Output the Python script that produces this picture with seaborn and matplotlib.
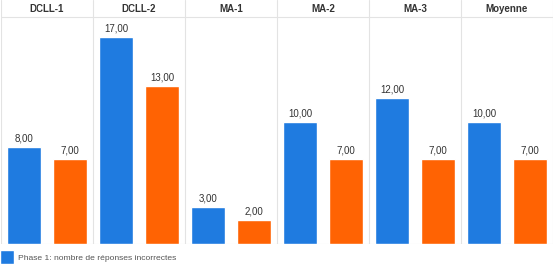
import matplotlib
matplotlib.use("Agg")
import matplotlib.pyplot as plt
from matplotlib.patches import Rectangle
from matplotlib.legend_handler import HandlerPatch
import seaborn as sns
import pandas as pd

categories = ["DCLL-1", "DCLL-2", "MA-1", "MA-2", "MA-3", "Moyenne"]
phase1 = [8, 17, 3, 10, 12, 10]
phase2 = [7, 13, 2, 7, 7, 7]
series_names = ["Phase 1: nombre de réponses incorrectes",
                "Phase 2: nombre de réponses incorrectes"]
colors = ["#1F7BE0", "#FF6303"]

df = pd.DataFrame({
    "cat": categories * 2,
    "val": phase1 + phase2,
    "serie": [series_names[0]] * len(categories) + [series_names[1]] * len(categories),
})

sns.set_theme(style="white")
plt.rcParams["font.family"] = ["Liberation Sans", "DejaVu Sans"]

W, H = 557, 264
fig = plt.figure(figsize=(W / 100, H / 100), dpi=100)
ax_bottom_px = 20
ax_top_px = 264  # axes spans to figure top
ax = fig.add_axes([1 / W, ax_bottom_px / H, 552 / W, (ax_top_px - ax_bottom_px) / H])

sns.barplot(data=df, x="cat", y="val", hue="serie", order=categories,
            hue_order=series_names, palette=colors, width=1.0, gap=0.24,
            saturation=1, ax=ax, legend=True)

px_per_unit = 12.18
ymax = (ax_top_px - ax_bottom_px) / px_per_unit
ax.set_ylim(0, ymax)
ax.set_xlim(-0.5, len(categories) - 0.5)
ax.set_xlabel("")
ax.set_ylabel("")
ax.set_xticks([])
ax.set_yticks([])
for s in ax.spines.values():
    s.set_visible(False)

grid_c = "#E3E3E3"
header_line = (ax_top_px - ax_bottom_px - 17) / px_per_unit
ax.axhline(header_line, color=grid_c, lw=0.8, zorder=0)
ax.axhline(0, color=grid_c, lw=0.8, zorder=0)
for i in range(len(categories) + 1):
    ax.axvline(i - 0.5, color=grid_c, lw=0.8, zorder=0)

header_y = (ax_top_px - ax_bottom_px - 8.5) / px_per_unit
for i, c in enumerate(categories):
    ax.text(i, header_y, c, ha="center", va="center", fontsize=7,
            fontweight="bold", color="#333333")

for cont in ax.containers:
    for bar in cont:
        h = bar.get_height()
        ax.annotate(f"{h:.2f}".replace(".", ","),
                    (bar.get_x() + bar.get_width() / 2, h),
                    xytext=(0, 2.5), textcoords="offset points",
                    ha="center", va="bottom", fontsize=7, color="#333333")


def square_patch(legend, orig_handle, xdescent, ydescent, width, height, fontsize):
    s_w, s_h = 10.0, 9.6
    return Rectangle((-xdescent, -ydescent + height / 2 - s_h / 2), s_w, s_h)


handles, labels = ax.get_legend_handles_labels()
ax.get_legend().remove()
leg = fig.legend(handles[:1], labels[:1], loc="center left",
                 bbox_to_anchor=(0.0, 6.5 / H), frameon=False,
                 fontsize=6.1, handlelength=1.65, handleheight=1.0,
                 handletextpad=0.5, borderpad=0.0, borderaxespad=0.0,
                 handler_map={Rectangle: HandlerPatch(patch_func=square_patch)})
for t in leg.get_texts():
    t.set_color("#555555")

fig.savefig("out.png", dpi=100)
